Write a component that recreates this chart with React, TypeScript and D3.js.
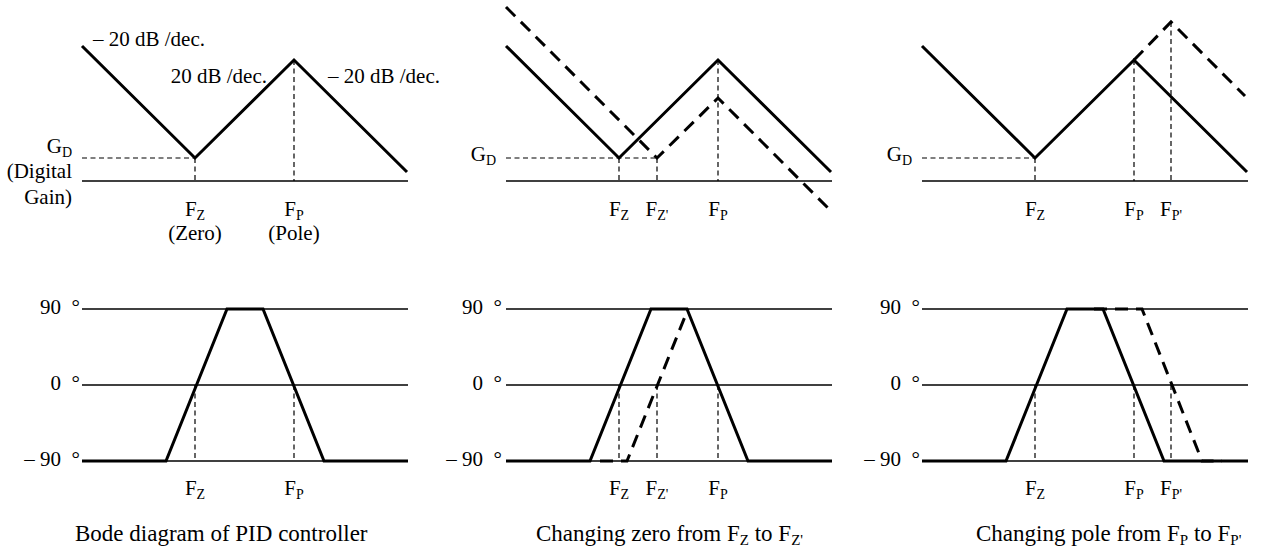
import React from "react";
import * as d3 from "d3";

type Pt = [number, number];

// Corner frequencies, in decades (log10 f) measured from the left end of each axis
const FZ = 1.13;
const FZ_SHIFT = 1.51;
const FP = 2.12;
const FP_SHIFT = 2.49;
const F_END = 3.26;

// Magnitude levels in dB above the frequency axis
const GD = 4.6;
const PEAK = 24.2;

// Asymptotic magnitude curves (corner points)
const magBase: Pt[] = [[0, 27.0], [FZ, GD], [FP, PEAK], [3.25, 1.8]];
const magZeroShift: Pt[] = [[0, 34.8], [FZ_SHIFT, GD], [FP, 16.6], [F_END, -6.2]];
const magPoleShift: Pt[] = [[FP, PEAK], [FP_SHIFT, 31.8], [3.23, 17.0]];

// Asymptotic phase curves (degrees)
const phaseBase: Pt[] = [[0, -90], [0.84, -90], [1.45, 90], [1.81, 90], [2.42, -90], [F_END, -90]];
const phaseZeroShift: Pt[] = [[0.94, -90], [1.21, -90], [1.82, 90]];
const phasePoleShift: Pt[] = [[1.72, 90], [2.2, 90], [2.8, -90], [3.0, -90]];

const phaseTicks = [90, 0, -90];
const phaseTickLabels = ["90\u2002\u00B0", "0\u2002\u00B0", "\u2013 90\u2002\u00B0"];

const slopeDown = "\u2013 20 dB /dec.";
const slopeUp = "20 dB /dec.";

const FONT = "'Liberation Serif', 'Times New Roman', serif";
const FS = 21;
const TITLE_FS = 23;
const SUB = 14;

const PANEL_W = 326;
const panelX = [82, 506, 922];

const yMag = d3.scaleLinear().domain([0, 27]).range([181, 46]);
const yPh = d3.scaleLinear().domain([-90, 90]).range([461, 309]);

const THICK = 3;
const THIN = 1.4;
const GUIDE = 1.2;
const BIG_DASH = "13 8";
const SMALL_DASH = "5 3.5";

function xScale(x0: number) {
  return d3.scaleLinear().domain([0, F_END]).range([x0, x0 + PANEL_W]);
}

function Sym({ x, y, main, sub, anchor = "middle", size = FS }: any) {
  return (
    <text x={x} y={y} textAnchor={anchor} fontSize={size}>
      {main}
      <tspan fontSize={SUB} dy={4}>{sub}</tspan>
    </text>
  );
}

function Curve({ pts, xs, ys, dashed }: any) {
  const line = d3.line<Pt>().x((d) => xs(d[0])).y((d) => ys(d[1]));
  return (
    <path
      d={line(pts) || ""}
      fill="none"
      stroke="#000"
      strokeWidth={THICK}
      strokeDasharray={dashed ? BIG_DASH : undefined}
      strokeLinejoin="miter"
    />
  );
}

function Guide({ x1, y1, x2, y2 }: any) {
  return <line x1={x1} y1={y1} x2={x2} y2={y2} stroke="#000" strokeWidth={GUIDE} strokeDasharray={SMALL_DASH} />;
}

type Marker = { f: number; level: number; main: string; sub: string };

function MagPanel({ x0, curves, gdTo, markers, gdLabelY }: any) {
  const xs = xScale(x0);
  return (
    <g>
      <line x1={xs(0)} x2={xs(F_END)} y1={yMag(0)} y2={yMag(0)} stroke="#000" strokeWidth={THIN} />
      <Guide x1={xs(0)} x2={xs(gdTo)} y1={yMag(GD)} y2={yMag(GD)} />
      {markers.map((m: Marker, i: number) => (
        <Guide key={i} x1={xs(m.f)} x2={xs(m.f)} y1={yMag(m.level)} y2={yMag(0)} />
      ))}
      {curves.map((c: any, i: number) => (
        <Curve key={i} pts={c.pts} dashed={c.dashed} xs={xs} ys={yMag} />
      ))}
      {markers.map((m: Marker, i: number) => (
        <Sym key={i} x={xs(m.f)} y={216} main={m.main} sub={m.sub} />
      ))}
      <Sym x={xs(0) - 10} y={gdLabelY} main="G" sub="D" anchor="end" />
    </g>
  );
}

function PhasePanel({ x0, curves, markers, labelX }: any) {
  const xs = xScale(x0);
  return (
    <g>
      {phaseTicks.map((t, i) => (
        <g key={t}>
          <line x1={xs(0)} x2={xs(F_END)} y1={yPh(t)} y2={yPh(t)} stroke="#000" strokeWidth={THIN} />
          <text x={labelX} y={yPh(t) + 5} textAnchor="end" fontSize={FS}>
            {phaseTickLabels[i]}
          </text>
        </g>
      ))}
      {markers.map((m: Marker, i: number) => (
        <Guide key={i} x1={xs(m.f)} x2={xs(m.f)} y1={yPh(0)} y2={yPh(-90)} />
      ))}
      {curves.map((c: any, i: number) => (
        <Curve key={i} pts={c.pts} dashed={c.dashed} xs={xs} ys={yPh} />
      ))}
      {markers.map((m: Marker, i: number) => (
        <Sym key={i} x={xs(m.f)} y={495} main={m.main} sub={m.sub} />
      ))}
    </g>
  );
}

export default function App() {
  const mZ: Marker = { f: FZ, level: GD, main: "F", sub: "Z" };
  const mZs: Marker = { f: FZ_SHIFT, level: GD, main: "F", sub: "Z'" };
  const mP: Marker = { f: FP, level: PEAK, main: "F", sub: "P" };
  const mPs: Marker = { f: FP_SHIFT, level: 31.8, main: "F", sub: "P'" };
  const x1 = xScale(panelX[0]);

  return (
    <svg
      width={1268}
      height={553}
      style={{ position: "absolute", left: 0, top: 0, background: "#fff" }}
      fontFamily={FONT}
      fill="#000"
    >
      {/* Bode diagram of the PID controller */}
      <MagPanel x0={panelX[0]} curves={[{ pts: magBase }]} gdTo={FZ} markers={[mZ, mP]} gdLabelY={153} />
      <text x={93} y={46} fontSize={FS}>{slopeDown}</text>
      <text x={267} y={83} fontSize={FS} textAnchor="end">{slopeUp}</text>
      <text x={328} y={83} fontSize={FS}>{slopeDown}</text>
      <text x={72} y={178} fontSize={FS} textAnchor="end">(Digital</text>
      <text x={72} y={204} fontSize={FS} textAnchor="end">Gain)</text>
      <text x={x1(FZ)} y={240} fontSize={FS} textAnchor="middle">(Zero)</text>
      <text x={x1(FP)} y={240} fontSize={FS} textAnchor="middle">(Pole)</text>
      <PhasePanel x0={panelX[0]} curves={[{ pts: phaseBase }]} markers={[mZ, mP]} labelX={80} />

      {/* Moving the zero */}
      <MagPanel
        x0={panelX[1]}
        curves={[{ pts: magBase }, { pts: magZeroShift, dashed: true }]}
        gdTo={FZ_SHIFT}
        markers={[mZ, mZs, mP]}
        gdLabelY={161}
      />
      <PhasePanel
        x0={panelX[1]}
        curves={[{ pts: phaseBase }, { pts: phaseZeroShift, dashed: true }]}
        markers={[mZ, mZs, mP]}
        labelX={502}
      />

      {/* Moving the pole */}
      <MagPanel
        x0={panelX[2]}
        curves={[{ pts: magBase }, { pts: magPoleShift, dashed: true }]}
        gdTo={FZ}
        markers={[mZ, mP, mPs]}
        gdLabelY={161}
      />
      <PhasePanel
        x0={panelX[2]}
        curves={[{ pts: phaseBase }, { pts: phasePoleShift, dashed: true }]}
        markers={[mZ, mP, { ...mPs, level: 0 }]}
        labelX={920}
      />

      {/* Captions */}
      <text x={75} y={541} fontSize={TITLE_FS}>Bode diagram of PID controller</text>
      <text x={536} y={541} fontSize={TITLE_FS}>
        Changing zero from F<tspan fontSize={SUB + 1} dy={4}>Z</tspan>
        <tspan dy={-4}> to F</tspan>
        <tspan fontSize={SUB + 1} dy={4}>Z'</tspan>
      </text>
      <text x={976} y={541} fontSize={TITLE_FS}>
        Changing pole from F<tspan fontSize={SUB + 1} dy={4}>P</tspan>
        <tspan dy={-4}> to F</tspan>
        <tspan fontSize={SUB + 1} dy={4}>P'</tspan>
      </text>
    </svg>
  );
}
